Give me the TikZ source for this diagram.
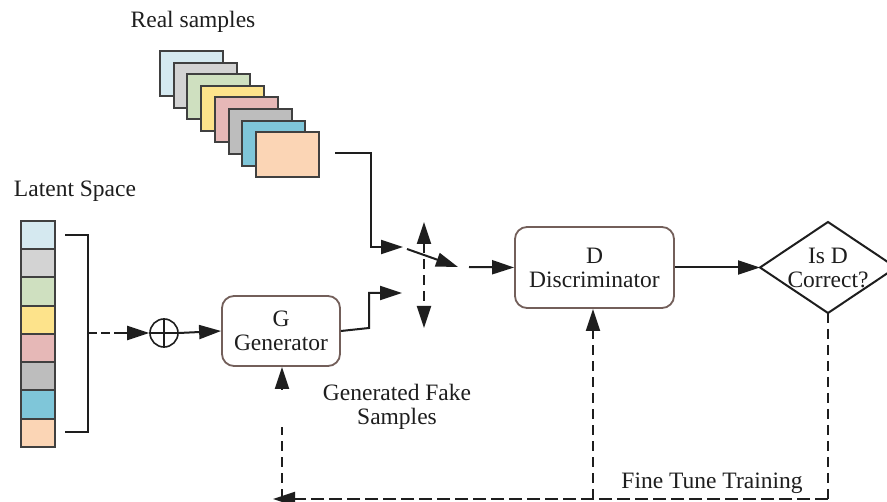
\documentclass[tikz,border=0pt]{standalone}
\usepackage{fontspec}
\setmainfont{Liberation Serif}
\usetikzlibrary{arrows.meta}
\definecolor{boxc}{RGB}{115,95,90}
\definecolor{txtc}{RGB}{30,30,30}
\definecolor{cA}{HTML}{D5E9F0}
\definecolor{cB}{HTML}{D3D3D3}
\definecolor{cC}{HTML}{CFE0C0}
\definecolor{cD}{HTML}{FDE38B}
\definecolor{cE}{HTML}{E6B8B7}
\definecolor{cF}{HTML}{BDBDBD}
\definecolor{cG}{HTML}{7FC6D9}
\definecolor{cH}{HTML}{FBD5B5}
\begin{document}
\begin{tikzpicture}[x=1pt,y=-1pt,
  lw/.style={line width=2pt, draw=txtc},
  arr/.style={lw, -{Triangle[length=22pt,width=14pt]}},
  dsh/.style={dash pattern=on 10pt off 6pt},
  hdsh/.style={dash pattern=on 13pt off 5pt},
  card/.style={draw=black!75, line width=2pt, minimum width=63pt, minimum height=45pt, inner sep=0pt, anchor=north west},
  cell/.style={draw=black!75, line width=2pt, minimum width=34pt, minimum height=28.25pt, inner sep=0pt, anchor=north west},
  box/.style={draw=boxc, line width=1.8pt, rounded corners=12pt, align=center, inner sep=0pt, text=txtc},
  txt/.style={text=txtc, align=center, inner sep=0pt},
  font=\fontsize{23.5}{24}\selectfont]
\useasboundingbox[fill=white] (0,0) rectangle (887,502);

% Real samples stack
\foreach \c [count=\i from 0] in {cA,cB,cC,cD,cE,cF,cG,cH}{
  \node[card, fill=\c] (rs\i) at ({159+13.7*\i},{50+11.6*\i}) {};
}
\node[txt] (rstxt) at (193,22) {Real samples};

% Latent space
\node[txt] (lstxt) at (75,191) {Latent Space};
\foreach \c [count=\i from 0] in {cA,cB,cC,cD,cE,cF,cG,cH}{
  \node[cell, fill=\c] (ls\i) at (20,{220+28.25*\i}) {};
}
\draw[lw] (65,235) -- (88,235) -- (88,432) -- (65,432);
\coordinate (brk) at (88,333);

% oplus
\node[circle, draw=txtc, line width=1.6pt, minimum size=28pt, inner sep=0pt] (op) at (164,333) {};
\draw[line width=1.6pt, draw=txtc] (op.north) -- (op.south) (op.west) -- (op.east);
\draw[arr, dash pattern=on 9pt off 4pt on 9pt off 4pt on 60pt off 0pt] (brk) -- (op.west);

% Generator
\node[box, minimum width=118pt, minimum height=70pt] (G) at (281,331) {G\\Generator};
\draw[arr] (op.east) -- (G.west);

% Discriminator
\node[box, minimum width=159pt, minimum height=81pt] (D) at (594.5,267.5) {D\\Discriminator};

% Decision diamond
\coordinate (dc) at (828,267.5);
\coordinate (diaL) at (760,267.5);
\coordinate (diaT) at (828,222);
\coordinate (diaR) at (896,267.5);
\coordinate (diaB) at (828,313);
\draw[lw] (diaL) -- (diaT) -- (diaR) -- (diaB) -- cycle;
\node[txt] (dtxt) at (828,268) {Is D\\Correct?};
\draw[arr] (D.east) -- (diaL);

% Real samples path
\coordinate (rsout) at (335,153);
\coordinate (rsin) at (403,247);
\draw[arr] (rsout) -- (371,153) -- (371,247) -- (rsin);
% switch
\coordinate (swA) at (407,249);
\coordinate (swB) at (458,267);
\draw[arr] (swA) -- (swB);
\coordinate (swC) at (469,267);
\draw[arr] (swC) -- (D.west);
% generator output
\coordinate (gout) at (402,293);
\draw[arr] (G.east) -- (369,328) -- (369,293) -- (gout);
% vertical double arrow
\coordinate (vT) at (424,222);
\coordinate (vB) at (424,328);
\draw[lw, dsh, {Triangle[length=22pt,width=14pt]}-{Triangle[length=22pt,width=14pt]}] (vT) -- (vB);

\node[txt] (gfs) at (397,407) {Generated Fake\\Samples};

% Feedback loop
\coordinate (bR) at (828,499);
\coordinate (bL) at (273,499);
\coordinate (bD) at (593,499);
\coordinate (bG) at (282,499);
\coordinate (gA) at (282,427);
\coordinate (gB) at (282,390);
\draw[lw, dsh] (diaB) -- (bR);
\draw[arr, hdsh] (bR) -- (bL);
\draw[arr, dsh] (bD) -- (D.south -| bD);
\draw[lw, dsh] (bG) -- (gA);
\draw[arr] (gB) -- (G.south -| gB);
\node[txt] (ftt) at (712,483) {Fine Tune Training};
\end{tikzpicture}
\end{document}
